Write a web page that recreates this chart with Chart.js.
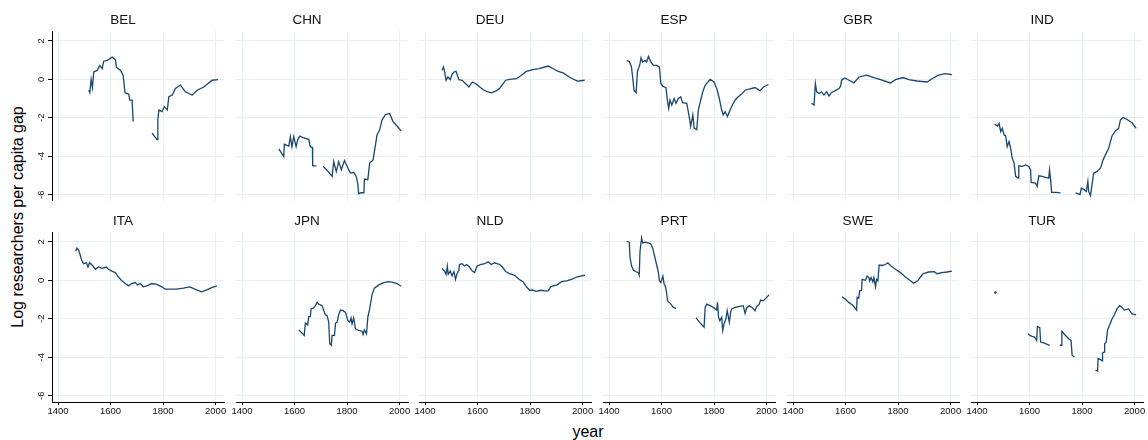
<!DOCTYPE html>
<html>
<head>
<meta charset="utf-8">
<title>Log researchers per capita gap</title>
<script src="https://cdn.jsdelivr.net/npm/chart.js@4.4.1/dist/chart.umd.min.js"></script>
<style>
  body { margin: 0; background: #fff; }
  #wrap { position: relative; width: 1148px; height: 440px; overflow: hidden; font-family: "Liberation Sans", Arial, sans-serif; color: #000; }
  #wrap canvas { position: absolute; }
  .ytitle { position: absolute; left: 18px; top: 217px; transform: translate(-50%, -50%) rotate(-90deg); font-size: 16px; line-height: 16px; white-space: nowrap; }
  .xtitle { position: absolute; left: 588px; top: 424px; transform: translateX(-50%); font-size: 16px; line-height: 16px; }
</style>
</head>
<body>
<div id="wrap">
  <div class="ytitle">Log researchers per capita gap</div>
  <div class="xtitle">year</div>
</div>
<script>
// panel order (2 rows x 6 columns)
const countries = ['BEL', 'CHN', 'DEU', 'ESP', 'GBR', 'IND', 'ITA', 'JPN', 'NLD', 'PRT', 'SWE', 'TUR'];
const xTicks = [1400, 1600, 1800, 2000];
const yTicks = [-6, -4, -2, 0, 2];

// null = break in the series
const BEL_year = [1517,1521,1526,1531,1536,1549,1559,1568,1574,1587,1606,1619,1622,1638,1648,1655,1669,1673,1682,1686,1720,1758,1777,1780,1784,1796,1805,1816,1822,1835,1847,1866,1885,1911,1930,1955,1987,2009];
const BEL_gap = [-0.57,-0.7,0,-0.43,0.38,0.46,0.72,0.55,0.94,0.98,1.15,1.01,0.63,0.46,0.2,-0.7,-0.77,-1.08,-1.08,-2.2,null,-2.8,-3.14,-2.1,-1.6,-1.68,-1.42,-1.6,-0.9,-0.82,-0.48,-0.3,-0.65,-0.82,-0.57,-0.4,-0.05,-0.02];

const CHN_year = [1540,1559,1561,1578,1584,1590,1597,1606,1612,1620,1632,1654,1660,1668,1669,1683,1695,1709,1724,1743,1749,1759,1768,1778,1790,1806,1813,1825,1835,1841,1844,1853,1864,1866,1879,1886,1899,1914,1924,1933,1946,1962,1975,1990,2006];
const CHN_gap = [-3.62,-4.02,-3.38,-3.47,-2.98,-3.5,-2.98,-3.5,-3.15,-2.95,-3.03,-3.12,-3.5,-3.55,-4.5,-4.5,null,-4.53,-4.74,-5.05,-4.28,-4.8,-4.28,-4.7,-4.22,-4.7,-4.88,-4.84,-5.05,-5.45,-5.95,-5.9,-5.9,-5.19,-5.22,-4.36,-4.19,-2.9,-2.64,-2.12,-1.83,-1.78,-2.2,-2.43,-2.69];

const DEU_year = [1465,1470,1474,1480,1487,1496,1503,1510,1518,1529,1541,1554,1567,1580,1592,1605,1620,1640,1652,1671,1684,1707,1722,1748,1767,1786,1811,1834,1869,1888,1907,1926,1952,1980,2008];
const DEU_gap = [0.47,0.64,0.43,-0.05,0.12,-0.02,0.26,0.38,0.41,-0.02,-0.05,-0.22,-0.4,-0.14,-0.22,-0.36,-0.53,-0.66,-0.71,-0.6,-0.48,-0.05,0,0.03,0.21,0.41,0.5,0.55,0.69,0.55,0.41,0.33,0.09,-0.1,-0.05];

const ESP_year = [1467,1477,1485,1490,1495,1503,1508,1518,1522,1528,1537,1543,1550,1559,1569,1582,1592,1597,1605,1617,1622,1627,1632,1639,1648,1655,1664,1673,1680,1696,1703,1711,1719,1724,1734,1740,1746,1757,1766,1785,1800,1810,1820,1829,1835,1842,1851,1861,1873,1882,1892,1905,1918,1937,1956,1975,1988,2007];
const ESP_gap = [0.98,0.93,0.67,0.12,-0.57,-0.7,0.38,0.81,1.12,0.9,0.98,0.9,1.19,0.9,0.72,0.72,0.63,-0.22,-0.36,-0.45,-1.08,-1.51,-1.08,-1.34,-1.0,-1.25,-1.0,-0.91,-1.22,-1.25,-1.77,-2.45,-1.85,-2.54,-2.62,-1.6,-1.25,-0.65,-0.31,0,-0.14,-0.48,-1.0,-1.6,-1.85,-1.68,-1.94,-1.6,-1.25,-1.05,-0.91,-0.77,-0.57,-0.5,-0.43,-0.6,-0.4,-0.27];

const GBR_year = [1470,1480,1485,1490,1499,1508,1518,1528,1537,1546,1559,1575,1581,1585,1597,1613,1632,1651,1680,1708,1733,1771,1790,1819,1841,1872,1910,1929,1954,1979,2005];
const GBR_gap = [-1.25,-1.34,-0.22,-0.65,-0.74,-0.65,-0.82,-0.65,-0.87,-0.7,-0.6,-0.48,-0.36,-0.05,0.07,-0.05,-0.19,0.12,0.21,0.09,-0.02,-0.19,-0.02,0.09,-0.02,-0.09,-0.14,0.03,0.21,0.29,0.24];

const IND_year = [1467,1477,1484,1490,1496,1503,1509,1515,1522,1528,1534,1541,1547,1557,1559,1572,1585,1597,1604,1606,1623,1629,1635,1648,1661,1673,1676,1680,1684,1699,1718,1745,1775,1792,1797,1806,1816,1822,1825,1832,1838,1844,1857,1870,1880,1889,1901,1914,1927,1939,1946,1956,1971,1990,2006];
const IND_gap = [-2.33,-2.43,-2.29,-2.72,-2.55,-2.9,-2.95,-3.5,-3.24,-3.59,-4.1,-4.36,-5.05,-5.14,-4.5,-4.53,-4.45,-4.53,-4.71,-5.36,-5.4,-5.57,-5.02,-5.05,-5.1,-5.14,-4.71,-5.19,-5.88,-5.88,-5.91,null,-5.91,-6.0,-5.66,-5.71,-5.83,-5.31,-5.83,-6.05,-5.48,-4.88,-4.79,-4.62,-4.19,-3.93,-3.59,-2.95,-2.69,-2.55,-2.12,-1.98,-2.09,-2.26,-2.55];

const ITA_year = [1467,1472,1477,1482,1489,1497,1508,1514,1520,1533,1542,1554,1567,1584,1592,1605,1618,1630,1643,1656,1668,1681,1694,1703,1713,1725,1738,1757,1776,1795,1808,1827,1852,1877,1902,1921,1947,1966,1985,2005];
const ITA_gap = [1.51,1.68,1.6,1.43,1.08,0.86,0.91,0.69,0.91,0.74,0.57,0.69,0.62,0.69,0.57,0.48,0.4,0.17,-0.03,-0.17,-0.29,-0.17,-0.12,-0.24,-0.17,-0.34,-0.29,-0.17,-0.21,-0.34,-0.46,-0.46,-0.46,-0.41,-0.34,-0.46,-0.6,-0.5,-0.38,-0.29];

const JPN_year = [1616,1629,1637,1641,1650,1654,1660,1663,1673,1679,1686,1692,1705,1717,1724,1730,1734,1740,1743,1752,1756,1762,1768,1775,1785,1794,1803,1810,1815,1819,1825,1832,1844,1857,1861,1866,1874,1879,1886,1895,1904,1921,1940,1959,1978,1990,2006];
const JPN_gap = [-2.58,-2.75,-2.87,-2.23,-2.32,-1.89,-1.89,-1.49,-1.44,-1.32,-1.15,-1.24,-1.32,-1.79,-1.84,-2.18,-3.3,-3.38,-2.87,-2.87,-2.23,-2.18,-1.79,-1.55,-1.58,-1.67,-2.1,-2.18,-1.96,-2.27,-1.96,-2.53,-2.61,-2.65,-2.82,-2.58,-2.78,-1.92,-1.49,-0.76,-0.41,-0.24,-0.12,-0.07,-0.12,-0.17,-0.31];

const NLD_year = [1465,1474,1480,1485,1488,1496,1503,1510,1516,1521,1529,1531,1541,1550,1559,1569,1580,1589,1598,1611,1627,1640,1652,1665,1684,1697,1707,1722,1741,1758,1773,1786,1799,1811,1824,1839,1856,1869,1878,1888,1903,1920,1939,1958,1977,2009];
const NLD_gap = [0.62,0.48,0.31,0.74,0.31,0.48,0.22,0.45,0.05,0.31,0.52,0.82,0.86,0.74,0.82,0.69,0.48,0.4,0.74,0.82,0.86,0.96,0.82,0.91,0.82,0.65,0.45,0.34,0.26,0.05,-0.07,-0.34,-0.52,-0.52,-0.58,-0.52,-0.55,-0.55,-0.34,-0.29,-0.24,-0.07,-0.03,0.05,0.17,0.27];

const PRT_year = [1467,1477,1480,1486,1493,1505,1512,1515,1518,1524,1528,1537,1550,1559,1566,1575,1581,1588,1592,1597,1605,1610,1614,1618,1623,1633,1645,1655,1690,1731,1744,1762,1766,1772,1785,1797,1810,1813,1817,1822,1829,1833,1838,1845,1850,1858,1863,1867,1880,1892,1911,1918,1924,1934,1947,1956,1962,1972,1977,1987,1998,2009];
const PRT_gap = [2.03,1.98,1.17,0.74,0.52,0.43,0.4,0.27,1.51,2.2,1.94,1.98,1.94,1.89,1.68,1.17,0.82,0.4,-0.03,-0.12,0.22,-0.21,-0.29,-0.55,-1.07,-1.2,-1.41,-1.46,null,-1.96,-2.18,-2.44,-1.41,-1.24,-1.32,-1.41,-1.55,-1.15,-1.92,-2.1,-1.92,-2.61,-2.27,-2.0,-1.58,-2.18,-1.67,-1.49,-1.41,-1.37,-1.32,-1.72,-1.44,-1.32,-1.44,-1.58,-1.37,-1.24,-1.03,-1.07,-0.93,-0.76];

const SWE_year = [1587,1599,1612,1625,1634,1642,1644,1650,1654,1661,1663,1676,1682,1689,1692,1697,1704,1708,1714,1718,1723,1728,1739,1752,1761,1771,1790,1809,1828,1847,1859,1875,1885,1895,1916,1938,1948,1967,1986,2005];
const SWE_gap = [-0.86,-0.98,-1.15,-1.27,-1.41,-1.55,-0.89,-0.93,-0.55,-0.52,0.05,0,0.22,0.14,-0.03,0.14,-0.09,0.14,-0.34,0.05,-0.03,0.79,0.77,0.82,0.91,0.77,0.57,0.4,0.17,-0.03,-0.15,-0.03,0.17,0.34,0.43,0.45,0.34,0.4,0.43,0.48];

const TUR_year = [1470,1530,1594,1601,1610,1619,1627,1630,1639,1642,1654,1667,1677,1696,1715,1720,1723,1737,1749,1758,1762,1771,1810,1851,1859,1861,1870,1876,1878,1885,1886,1892,1897,1905,1914,1923,1933,1943,1952,1961,1977,1990,2006];
const TUR_gap = [-0.64,null,-2.78,-2.87,-2.92,-2.95,-3.13,-2.41,-2.47,-3.21,-3.26,-3.33,-3.38,null,-3.38,-3.38,-2.65,-2.87,-3.04,-3.13,-3.9,-3.99,null,-4.67,-4.72,-4.07,-4.12,-4.19,-3.78,-3.73,-3.3,-3.21,-2.58,-2.32,-2.01,-1.79,-1.49,-1.32,-1.41,-1.55,-1.49,-1.75,-1.8];

document.addEventListener('DOMContentLoaded', function() {
    const wrap = document.getElementById('wrap');
    const series = {
        BEL: [BEL_year, BEL_gap], CHN: [CHN_year, CHN_gap], DEU: [DEU_year, DEU_gap],
        ESP: [ESP_year, ESP_gap], GBR: [GBR_year, GBR_gap], IND: [IND_year, IND_gap],
        ITA: [ITA_year, ITA_gap], JPN: [JPN_year, JPN_gap], NLD: [NLD_year, NLD_gap],
        PRT: [PRT_year, PRT_gap], SWE: [SWE_year, SWE_gap], TUR: [TUR_year, TUR_gap]
    };
    const navy = '#1a476f';
    const gridColor = '#e9f0f2';
    const family = '"Liberation Sans", Arial, sans-serif';
    const side = 30;     // room left and right of each plot
    const plotW = 172;

    // draw a dot where a value has no neighbours to connect to
    function isolatedRadius(ctx) {
        const d = ctx.dataset.data;
        const i = ctx.dataIndex;
        const prevGap = i === 0 || d[i - 1].y === null;
        const nextGap = i === d.length - 1 || d[i + 1].y === null;
        return (prevGap && nextGap && d[i].y !== null) ? 1.3 : 0;
    }

    function makePanel(code, col, row) {
        const firstCol = col === 0;
        const bottomRow = row === 1;
        const canvas = document.createElement('canvas');
        const left = Math.round(52 + col * 183.7) - side;
        const top = bottomRow ? 201 : 0;
        const height = bottomRow ? 223 : 201;
        canvas.width = plotW + side * 2;
        canvas.height = height;
        canvas.style.left = left + 'px';
        canvas.style.top = top + 'px';
        wrap.appendChild(canvas);

        const years = series[code][0];
        const vals = series[code][1];
        const points = years.map((yr, i) => ({ x: yr, y: vals[i] }));

        new Chart(canvas.getContext('2d'), {
            type: 'line',
            data: {
                datasets: [{
                    data: points,
                    borderColor: navy,
                    backgroundColor: navy,
                    borderWidth: 1.3,
                    pointRadius: isolatedRadius,
                    pointBorderWidth: 0,
                    spanGaps: false,
                    tension: 0
                }]
            },
            options: {
                responsive: false,
                animation: false,
                events: [],
                layout: { padding: { left: 0, right: side, top: 0, bottom: 0 } },
                plugins: {
                    legend: { display: false },
                    tooltip: { enabled: false },
                    title: {
                        display: true,
                        text: code,
                        color: '#111',
                        font: { family: family, size: 13.5, weight: 'normal' },
                        padding: { top: 12, bottom: 3 }
                    }
                },
                scales: {
                    x: {
                        type: 'linear',
                        min: 1377,
                        max: 2032,
                        afterBuildTicks: s => { s.ticks = xTicks.map(v => ({ value: v })); },
                        afterFit: s => { s.height = bottomRow ? 22 : 0; s.paddingLeft = 0; s.paddingRight = 0; },
                        grid: { color: gridColor, drawTicks: bottomRow, tickLength: 3, tickColor: '#000' },
                        border: { display: bottomRow, color: '#000', width: 1 },
                        ticks: {
                            display: bottomRow,
                            minRotation: 0,
                            maxRotation: 0,
                            padding: 1,
                            color: '#111',
                            font: { family: family, size: 9.5 },
                            callback: v => String(v)
                        }
                    },
                    y: {
                        min: -6.33,
                        max: 2.5,
                        afterBuildTicks: s => { s.ticks = yTicks.map(v => ({ value: v })); },
                        afterFit: s => { s.width = side; s.paddingTop = 0; s.paddingBottom = 0; },
                        grid: { color: gridColor, drawTicks: firstCol, tickLength: 4, tickColor: '#000' },
                        border: { display: firstCol, color: '#000', width: 1 },
                        ticks: {
                            display: firstCol,
                            minRotation: 90,
                            maxRotation: 90,
                            crossAlign: 'center',
                            padding: 2,
                            color: '#111',
                            font: { family: family, size: 9.5 },
                            callback: v => String(v)
                        }
                    }
                }
            }
        });
    }

    countries.forEach((code, i) => makePanel(code, i % 6, Math.floor(i / 6)));
});
</script>
</body>
</html>
